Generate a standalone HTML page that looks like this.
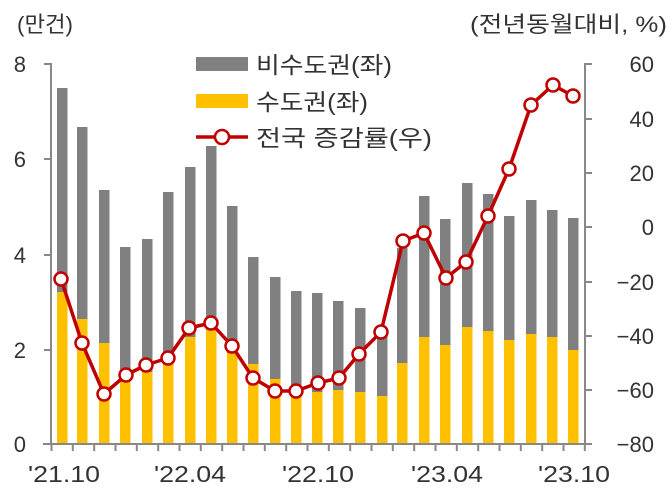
<!DOCTYPE html>
<html><head><meta charset="utf-8"><style>
html,body{margin:0;padding:0;background:#fff;}
svg{display:block;font-family:"Liberation Sans","Noto Sans CJK KR",sans-serif;}
</style></head><body>
<svg width="672" height="498" viewBox="0 0 672 498" xmlns="http://www.w3.org/2000/svg">
<g fill="#333" font-size="22">
<text x="17" y="32" textLength="56" lengthAdjust="spacingAndGlyphs">(만건)</text>
<text x="470" y="32" textLength="197" lengthAdjust="spacingAndGlyphs">(전년동월대비, %)</text>
<text x="26" y="72" text-anchor="end">8</text>
<text x="26" y="167" text-anchor="end">6</text>
<text x="26" y="263" text-anchor="end">4</text>
<text x="26" y="358" text-anchor="end">2</text>
<text x="26" y="452" text-anchor="end">0</text>
<text x="654" y="72" text-anchor="end">60</text>
<text x="654" y="127" text-anchor="end">40</text>
<text x="654" y="181" text-anchor="end">20</text>
<text x="654" y="235" text-anchor="end">0</text>
<text x="654" y="290" text-anchor="end">−20</text>
<text x="654" y="344" text-anchor="end">−40</text>
<text x="654" y="398" text-anchor="end">−60</text>
<text x="654" y="452" text-anchor="end">−80</text>
</g>
<g fill="#333" font-size="23">
<text x="64" y="482" text-anchor="middle" textLength="72" lengthAdjust="spacingAndGlyphs">'21.10</text>
<text x="190" y="482" text-anchor="middle" textLength="72" lengthAdjust="spacingAndGlyphs">'22.04</text>
<text x="318" y="482" text-anchor="middle" textLength="72" lengthAdjust="spacingAndGlyphs">'22.10</text>
<text x="447" y="482" text-anchor="middle" textLength="72" lengthAdjust="spacingAndGlyphs">'23.04</text>
<text x="574" y="482" text-anchor="middle" textLength="72" lengthAdjust="spacingAndGlyphs">'23.10</text>
</g>
<g id="bars">
<rect x="57" y="88" width="10.5" height="204" fill="#808080"/><rect x="57" y="292" width="10.5" height="152" fill="#FFC000"/>
<rect x="77" y="127" width="10.5" height="192" fill="#808080"/><rect x="77" y="319" width="10.5" height="125" fill="#FFC000"/>
<rect x="99" y="190" width="10.5" height="153" fill="#808080"/><rect x="99" y="343" width="10.5" height="101" fill="#FFC000"/>
<rect x="120" y="247" width="10.5" height="135" fill="#808080"/><rect x="120" y="382" width="10.5" height="62" fill="#FFC000"/>
<rect x="142" y="239" width="10.5" height="133" fill="#808080"/><rect x="142" y="372" width="10.5" height="72" fill="#FFC000"/>
<rect x="163" y="192" width="10.5" height="170" fill="#808080"/><rect x="163" y="362" width="10.5" height="82" fill="#FFC000"/>
<rect x="185" y="167" width="10.5" height="170" fill="#808080"/><rect x="185" y="337" width="10.5" height="107" fill="#FFC000"/>
<rect x="206" y="146" width="10.5" height="177" fill="#808080"/><rect x="206" y="323" width="10.5" height="121" fill="#FFC000"/>
<rect x="227" y="206" width="10.5" height="147" fill="#808080"/><rect x="227" y="353" width="10.5" height="91" fill="#FFC000"/>
<rect x="248" y="257" width="10.5" height="107" fill="#808080"/><rect x="248" y="364" width="10.5" height="80" fill="#FFC000"/>
<rect x="270" y="277" width="10.5" height="102" fill="#808080"/><rect x="270" y="379" width="10.5" height="65" fill="#FFC000"/>
<rect x="291" y="291" width="10.5" height="102" fill="#808080"/><rect x="291" y="393" width="10.5" height="51" fill="#FFC000"/>
<rect x="312" y="293" width="10.5" height="99" fill="#808080"/><rect x="312" y="392" width="10.5" height="52" fill="#FFC000"/>
<rect x="333" y="301" width="10.5" height="89" fill="#808080"/><rect x="333" y="390" width="10.5" height="54" fill="#FFC000"/>
<rect x="355" y="308" width="10.5" height="84" fill="#808080"/><rect x="355" y="392" width="10.5" height="52" fill="#FFC000"/>
<rect x="377" y="330" width="10.5" height="66" fill="#808080"/><rect x="377" y="396" width="10.5" height="48" fill="#FFC000"/>
<rect x="397" y="248" width="10.5" height="115" fill="#808080"/><rect x="397" y="363" width="10.5" height="81" fill="#FFC000"/>
<rect x="419" y="196" width="10.5" height="141" fill="#808080"/><rect x="419" y="337" width="10.5" height="107" fill="#FFC000"/>
<rect x="440" y="219" width="10.5" height="126" fill="#808080"/><rect x="440" y="345" width="10.5" height="99" fill="#FFC000"/>
<rect x="462" y="183" width="10.5" height="144" fill="#808080"/><rect x="462" y="327" width="10.5" height="117" fill="#FFC000"/>
<rect x="483" y="194" width="10.5" height="137" fill="#808080"/><rect x="483" y="331" width="10.5" height="113" fill="#FFC000"/>
<rect x="504" y="216" width="10.5" height="124" fill="#808080"/><rect x="504" y="340" width="10.5" height="104" fill="#FFC000"/>
<rect x="526" y="200" width="10.5" height="134" fill="#808080"/><rect x="526" y="334" width="10.5" height="110" fill="#FFC000"/>
<rect x="547" y="210" width="10.5" height="127" fill="#808080"/><rect x="547" y="337" width="10.5" height="107" fill="#FFC000"/>
<rect x="568" y="218" width="10.5" height="132" fill="#808080"/><rect x="568" y="350" width="10.5" height="94" fill="#FFC000"/>
</g>
<g stroke="#888" stroke-width="2" fill="none">
<line x1="51" y1="63" x2="51" y2="445"/>
<line x1="44" y1="64" x2="51" y2="64"/><line x1="44" y1="159" x2="51" y2="159"/><line x1="44" y1="255" x2="51" y2="255"/><line x1="44" y1="350" x2="51" y2="350"/>
<line x1="585" y1="63" x2="585" y2="445"/>
<line x1="585" y1="64" x2="592" y2="64"/><line x1="585" y1="119" x2="592" y2="119"/><line x1="585" y1="173" x2="592" y2="173"/><line x1="585" y1="227" x2="592" y2="227"/><line x1="585" y1="282" x2="592" y2="282"/><line x1="585" y1="336" x2="592" y2="336"/><line x1="585" y1="390" x2="592" y2="390"/>
<line x1="43" y1="444" x2="592" y2="444"/>
<path d="M51.5 444v7M72.8 444v7M94.2 444v7M115.5 444v7M136.8 444v7M158.2 444v7M179.5 444v7M200.8 444v7M222.2 444v7M243.5 444v7M264.8 444v7M286.2 444v7M307.5 444v7M328.8 444v7M350.2 444v7M371.5 444v7M392.8 444v7M414.2 444v7M435.5 444v7M456.8 444v7M478.2 444v7M499.5 444v7M520.8 444v7M542.2 444v7M563.5 444v7M584.8 444v7"/>
</g>
<polyline fill="none" stroke="#C00000" stroke-width="3.5" stroke-linejoin="round" points="61,279 82,343 104,394 126,375 146,365 168,358 189,328 211,323 232,346 253,378 275,391 296,391 318,383 339,378 359,354 381,332 403,241 424,233 446,278 466,262 488,216 509,169 531,105 553,85 573,96"/>
<g fill="#fff" stroke="#C00000" stroke-width="2.5">
<circle cx="61" cy="279" r="6.5"/><circle cx="82" cy="343" r="6.5"/><circle cx="104" cy="394" r="6.5"/><circle cx="126" cy="375" r="6.5"/><circle cx="146" cy="365" r="6.5"/><circle cx="168" cy="358" r="6.5"/><circle cx="189" cy="328" r="6.5"/><circle cx="211" cy="323" r="6.5"/><circle cx="232" cy="346" r="6.5"/><circle cx="253" cy="378" r="6.5"/><circle cx="275" cy="391" r="6.5"/><circle cx="296" cy="391" r="6.5"/><circle cx="318" cy="383" r="6.5"/><circle cx="339" cy="378" r="6.5"/><circle cx="359" cy="354" r="6.5"/><circle cx="381" cy="332" r="6.5"/><circle cx="403" cy="241" r="6.5"/><circle cx="424" cy="233" r="6.5"/><circle cx="446" cy="278" r="6.5"/><circle cx="466" cy="262" r="6.5"/><circle cx="488" cy="216" r="6.5"/><circle cx="509" cy="169" r="6.5"/><circle cx="531" cy="105" r="6.5"/><circle cx="553" cy="85" r="6.5"/><circle cx="573" cy="96" r="6.5"/>
</g>
<rect x="196" y="57" width="52" height="14" fill="#808080"/>
<rect x="196" y="94" width="52" height="14" fill="#FFC000"/>
<line x1="196" y1="137" x2="248" y2="137" stroke="#C00000" stroke-width="3.5"/>
<circle cx="222" cy="137" r="7" fill="#fff" stroke="#C00000" stroke-width="2.5"/>
<g fill="#333" font-size="23">
<text x="256" y="73" textLength="136" lengthAdjust="spacingAndGlyphs">비수도권(좌)</text>
<text x="256" y="110" textLength="112" lengthAdjust="spacingAndGlyphs">수도권(좌)</text>
<text x="256" y="146" textLength="176" lengthAdjust="spacingAndGlyphs">전국 증감률(우)</text>
</g>
</svg>
</body></html>
